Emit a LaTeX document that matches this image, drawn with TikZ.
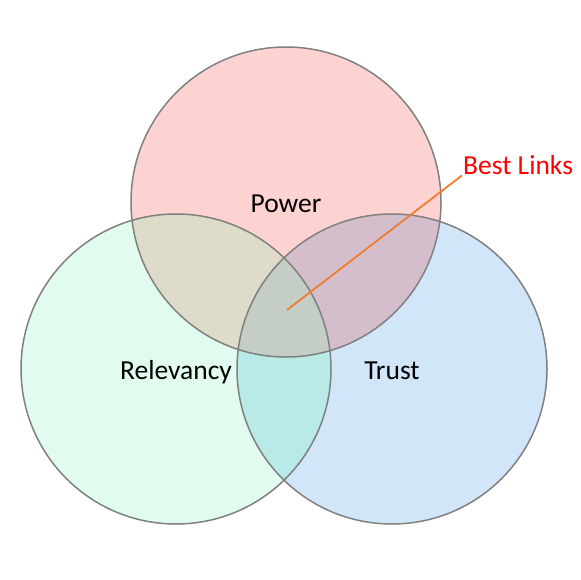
\documentclass[tikz,border=0pt]{standalone}
\usepackage{fontspec}
\setmainfont{Carlito}
\definecolor{powerpink}{HTML}{FCD3D0}
\definecolor{relmint}{HTML}{E1FCEE}
\definecolor{trustblue}{HTML}{D2E6FA}
\definecolor{powerrel}{HTML}{DEDBC8}
\definecolor{powertrust}{HTML}{D5BECB}
\definecolor{reltrust}{HTML}{B9EAE7}
\definecolor{allthree}{HTML}{C4CDC6}
\definecolor{ringgray}{HTML}{808080}
\definecolor{linkorange}{HTML}{ED7D31}
\begin{document}
\begin{tikzpicture}[x=1pt, y=-1pt]
    \tikzstyle{ring_style} = [draw=ringgray, line width=1.5pt]
    \tikzstyle{label_style} = [font=\fontsize{27.5}{33}\selectfont, text=black, anchor=base]
    \tikzstyle{link_style} = [draw=linkorange, line width=1.8pt]

    \def\rad{155pt}

    \useasboundingbox (0,0) rectangle (580,580);

    \coordinate (P) at (286,202);
    \coordinate (R) at (176,369);
    \coordinate (T) at (392,369);

    \fill[powerpink] (P) circle (\rad);
    \fill[relmint] (R) circle (\rad);
    \fill[trustblue] (T) circle (\rad);

    \begin{scope}
        \clip (R) circle (\rad);
        \fill[reltrust] (T) circle (\rad);
    \end{scope}

    \begin{scope}
        \clip (P) circle (\rad);
        \fill[powerrel] (R) circle (\rad);
        \fill[powertrust] (T) circle (\rad);
        \clip (R) circle (\rad);
        \fill[allthree] (T) circle (\rad);
    \end{scope}

    \draw[ring_style] (P) circle (\rad);
    \draw[ring_style] (R) circle (\rad);
    \draw[ring_style] (T) circle (\rad);

    \node[label_style] (power) at (286,212) {Power};
    \node[label_style] (relevancy) at (176,379) {Relevancy};
    \node[label_style] (trust) at (392,379) {Trust};
    \node[label_style, anchor=base west, inner sep=1pt, text=red] (best) at (462,174) {Best Links};

    \coordinate (core) at (287,310);
    \draw[link_style] (core) -- (best.south west);
\end{tikzpicture}
\end{document}
